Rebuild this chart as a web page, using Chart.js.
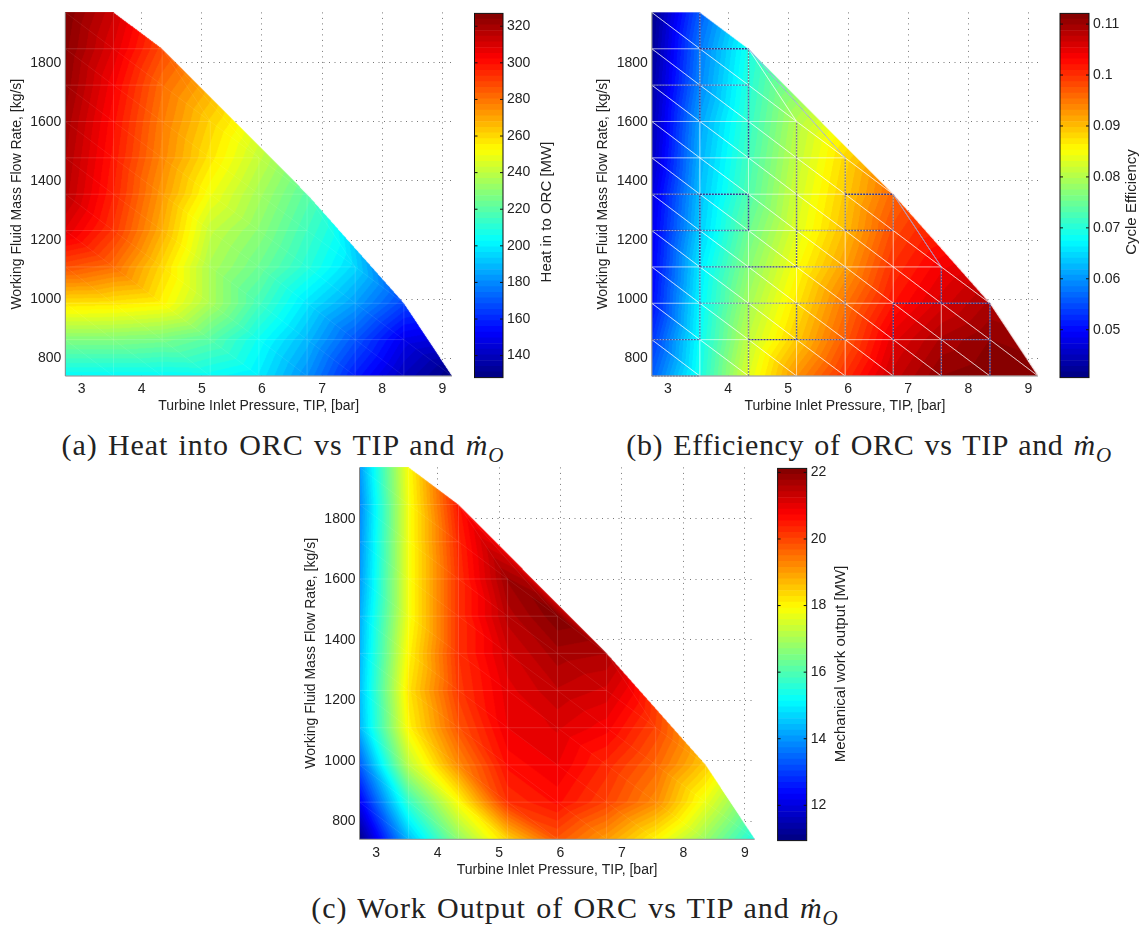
<!DOCTYPE html>
<html>
<head>
<meta charset="utf-8">
<script src="https://cdn.jsdelivr.net/npm/chart.js@4"></script>
<style>
  html, body { margin: 0; padding: 0; background: #fff; overflow: hidden; }
  body { position: relative; width: 1142px; height: 927px; }
  canvas { position: absolute; }
  .caption {
    position: absolute; transform: translateX(-50%); white-space: nowrap;
    font-family: "Liberation Serif", serif; font-size: 30px; line-height: 32px;
    color: #222; letter-spacing: 0.9px; word-spacing: 2px;
  }
  .caption i { font-style: italic; }
  .caption sub { font-size: 21px; line-height: 0; }
</style>
</head>
<body>
<div class="caption" style="left:283px;top:429px">(a) Heat into ORC vs TIP and <i>ṁ<sub>O</sub></i></div>
<div class="caption" style="left:869px;top:429px;letter-spacing:0.65px">(b) Efficiency of ORC vs TIP and <i>ṁ<sub>O</sub></i></div>
<div class="caption" style="left:575px;top:892px">(c) Work Output of ORC vs TIP and <i>ṁ<sub>O</sub></i></div>
<script>
// grid nodes of the sweep
const tipNodes  = [2.73, 3.53, 4.34, 5.14, 5.95, 6.75, 7.55, 8.36, 9.16];
const flowNodes = [740, 863, 986, 1109, 1232, 1355, 1478, 1601, 1724, 1847, 1970];

const xTicks = [3, 4, 5, 6, 7, 8, 9];
const yTicks = [800, 1000, 1200, 1400, 1600, 1800];

// one row per flow rate, bottom row first, row length = how far the sweep got
const heatRows = [
  [203, 203, 203, 204, 199, 181, 158, 140, 128],
  [228, 228, 226, 220, 205, 189, 169, 149],
  [258, 257, 254, 236, 216, 198, 184, 166],
  [287, 281, 260, 236, 224, 210, 195],
  [308, 292, 268, 241, 230, 215],
  [316, 296, 272, 250, 235, 220],
  [318, 298, 276, 257, 241],
  [320, 300, 278, 261],
  [323, 303, 281],
  [325, 308, 288],
  [327, 312],
];

const effRows = [
  [0.056, 0.069, 0.083, 0.093, 0.100, 0.107, 0.111, 0.112, 0.112],
  [0.053, 0.068, 0.081, 0.089, 0.097, 0.105, 0.109, 0.111],
  [0.050, 0.067, 0.079, 0.087, 0.095, 0.102, 0.106, 0.109],
  [0.049, 0.066, 0.077, 0.085, 0.092, 0.100, 0.104],
  [0.048, 0.064, 0.075, 0.083, 0.090, 0.098],
  [0.047, 0.063, 0.073, 0.082, 0.089, 0.096],
  [0.045, 0.062, 0.072, 0.081, 0.088],
  [0.044, 0.061, 0.071, 0.080],
  [0.043, 0.059, 0.070],
  [0.042, 0.058, 0.069],
  [0.041, 0.056],
];

const workRows = [
  [11.0, 14.4, 16.7, 18.4, 19.8, 19.0, 18.0, 16.8, 15.4],
  [12.2, 15.7, 17.9, 20.2, 20.6, 20.0, 19.2, 17.7],
  [13.3, 17.2, 19.2, 20.6, 20.9, 20.3, 19.6, 18.5],
  [14.3, 18.0, 19.8, 20.9, 21.1, 20.8, 20.0],
  [14.4, 18.2, 20.1, 21.0, 21.4, 21.2],
  [14.3, 18.0, 20.2, 21.2, 21.7, 21.6],
  [14.2, 17.8, 20.2, 21.5, 22.1],
  [14.0, 17.8, 20.2, 21.8],
  [13.9, 17.8, 20.3],
  [13.8, 17.8, 20.5],
  [14.0, 17.9],
];

// triangles closing the staircase to the convex hull, [col, row] nodes
const hullTriangles = [
  [[2, 9], [2, 8], [3, 7]],
  [[2, 9], [3, 7], [4, 6]],
  [[2, 9], [4, 6], [5, 5]],
  [[5, 5], [5, 4], [6, 3]],
  [[5, 5], [6, 3], [7, 2]],
  [[7, 2], [7, 1], [8, 0]],
];

// dark rendering seams in the efficiency plot: [col, row, strength]
const effSeamsH = [
  [1, 9, .9], [0, 8, .6], [1, 8, .6], [0, 5, .6], [1, 5, .9], [4, 5, .9],
  [0, 4, .6], [1, 4, .6], [3, 4, .35], [4, 4, .7], [1, 3, .7], [2, 3, .9], [3, 3, .4],
  [1, 2, .4], [2, 2, .4], [3, 2, .4], [5, 2, .9], [6, 2, .9],
  [0, 1, .7], [2, 1, .9], [3, 1, .7], [6, 1, .7], [0, 0, .5],
];
const effSeamsV = [
  [1, 9, .9], [1, 8, .35], [1, 7, .9], [1, 4, .9], [1, 3, .9], [1, 2, .6], [1, 1, .6],
  [2, 8, .5], [2, 7, .7], [2, 6, .9], [2, 4, .9], [2, 1, .5], [2, 0, .5],
  [3, 6, .55], [3, 5, .55], [3, 4, .7], [3, 3, .7], [3, 1, .7],
  [4, 5, .5], [4, 4, .5], [4, 2, .5], [4, 1, .5],
  [5, 4, .5], [5, 1, .9], [5, 0, .4], [6, 2, .7], [6, 0, .6], [7, 1, .9], [7, 0, .9],
];
const effSeamsHull = [
  [[2, 9], [4, 6]],
  [[5, 5], [6, 3]],
];

const heatBarTicks = [140, 160, 180, 200, 220, 240, 260, 280, 300, 320];
const effBarTicks  = [0.05, 0.06, 0.07, 0.08, 0.09, 0.1, 0.11];
const workBarTicks = [12, 14, 16, 18, 20, 22];

const FONT = '"Liberation Sans", Arial, sans-serif';
const TEXT = '#222';
const JET_LEVELS = 64;

function jet(t) {
  const c = v => Math.round(255 * Math.min(1, Math.max(0, v)));
  return [c(1.5 - Math.abs(4 * t - 3)), c(1.5 - Math.abs(4 * t - 2)), c(1.5 - Math.abs(4 * t - 1))];
}
const jetTable = Array.from({ length: JET_LEVELS }, (_, i) => jet((i + 0.5) / JET_LEVELS));

function placeCanvas(left, top, width, height) {
  const cv = document.createElement('canvas');
  cv.width = width;
  cv.height = height;
  cv.style.left = left + 'px';
  cv.style.top = top + 'px';
  cv.style.width = width + 'px';
  cv.style.height = height + 'px';
  document.body.appendChild(cv);
  return cv.getContext('2d');
}

function buildTriangles(rows) {
  const tris = [];
  for (let r = 0; r < rows.length - 1; r++) {
    for (let c = 0; c < rows[r].length - 1; c++) {
      if (c >= rows[r + 1].length) continue;
      tris.push([[c, r + 1], [c, r], [c + 1, r]]);
      if (c + 1 < rows[r + 1].length) tris.push([[c, r + 1], [c + 1, r + 1], [c + 1, r]]);
    }
  }
  return tris.concat(hullTriangles);
}

function surfacePlugin(cfg) {
  const SS = 2;
  const tris = buildTriangles(cfg.rows);

  const px = (chart, n) => [
    chart.scales.x.getPixelForValue(tipNodes[n[0]]),
    chart.scales.y.getPixelForValue(flowNodes[n[1]]),
  ];

  function segment(ctx, chart, a, b) {
    const pa = px(chart, a), pb = px(chart, b);
    ctx.beginPath();
    ctx.moveTo(pa[0], pa[1]);
    ctx.lineTo(pb[0], pb[1]);
    ctx.stroke();
  }

  return {
    id: 'surface' + cfg.id,
    beforeDatasetsDraw(chart) {
      const area = chart.chartArea;
      const w = Math.ceil(area.width * SS), h = Math.ceil(area.height * SS);
      const off = document.createElement('canvas');
      off.width = w;
      off.height = h;
      const octx = off.getContext('2d');
      const img = octx.createImageData(w, h);

      tris.forEach(tri => {
        const pts = tri.map(n => {
          const p = px(chart, n);
          return [(p[0] - area.left) * SS, (p[1] - area.top) * SS, cfg.rows[n[1]][n[0]]];
        });
        const [a, b, c] = pts;
        const det = (b[1] - c[1]) * (a[0] - c[0]) + (c[0] - b[0]) * (a[1] - c[1]);
        const x0 = Math.max(0, Math.floor(Math.min(a[0], b[0], c[0])));
        const x1 = Math.min(w - 1, Math.ceil(Math.max(a[0], b[0], c[0])));
        const y0 = Math.max(0, Math.floor(Math.min(a[1], b[1], c[1])));
        const y1 = Math.min(h - 1, Math.ceil(Math.max(a[1], b[1], c[1])));
        for (let y = y0; y <= y1; y++) {
          for (let x = x0; x <= x1; x++) {
            const l1 = ((b[1] - c[1]) * (x + .5 - c[0]) + (c[0] - b[0]) * (y + .5 - c[1])) / det;
            const l2 = ((c[1] - a[1]) * (x + .5 - c[0]) + (a[0] - c[0]) * (y + .5 - c[1])) / det;
            const l3 = 1 - l1 - l2;
            if (l1 < -0.001 || l2 < -0.001 || l3 < -0.001) continue;
            const z = l1 * a[2] + l2 * b[2] + l3 * c[2];
            const t = (z - cfg.zMin) / (cfg.zMax - cfg.zMin);
            const idx = Math.max(0, Math.min(JET_LEVELS - 1, Math.floor(t * JET_LEVELS)));
            const col = jetTable[idx];
            const o = (y * w + x) * 4;
            img.data[o] = col[0];
            img.data[o + 1] = col[1];
            img.data[o + 2] = col[2];
            img.data[o + 3] = 255;
          }
        }
      });
      octx.putImageData(img, 0, 0);

      const ctx = chart.ctx;
      ctx.save();
      ctx.imageSmoothingEnabled = true;
      ctx.imageSmoothingQuality = 'high';
      ctx.drawImage(off, area.left, area.top, w / SS, h / SS);

      // faint mesh lines
      ctx.lineWidth = 0.8;
      tris.forEach(tri => {
        for (let i = 0; i < 3; i++) {
          const a = tri[i], b = tri[(i + 1) % 3];
          const diag = a[0] !== b[0] && a[1] !== b[1];
          ctx.strokeStyle = `rgba(255,255,255,${diag ? cfg.meshDiag : cfg.meshGrid})`;
          segment(ctx, chart, a, b);
        }
      });

      // seams only show up on the efficiency plot
      if (cfg.seamsH) {
        ctx.lineWidth = 1.4;
        ctx.setLineDash([2, 1]);
        cfg.seamsH.forEach(([c, r, s]) => {
          ctx.strokeStyle = `rgba(35,40,130,${s})`;
          segment(ctx, chart, [c, r], [c + 1, r]);
        });
        cfg.seamsV.forEach(([c, r, s]) => {
          ctx.strokeStyle = s < .6 ? `rgba(90,90,120,${s + .2})` : `rgba(35,40,130,${s})`;
          segment(ctx, chart, [c, r], [c, r + 1]);
        });
        ctx.setLineDash([]);
        ctx.lineWidth = 0.7;
        ctx.strokeStyle = 'rgba(50,70,190,.6)';
        cfg.seamsHull.forEach(([a, b]) => segment(ctx, chart, a, b));
      }
      ctx.restore();
    },
    afterDatasetsDraw(chart) {
      const area = chart.chartArea;
      const ctx = chart.ctx;
      ctx.save();
      ctx.strokeStyle = '#8a8a8a';
      ctx.lineWidth = 1;
      ctx.beginPath();
      ctx.moveTo(area.left, area.top);
      ctx.lineTo(area.left, area.bottom);
      const p = px(chart, [8, 0]);
      ctx.lineTo(p[0], area.bottom);
      ctx.stroke();
      ctx.restore();
    },
  };
}

function drawSurface(cfg) {
  const b = cfg.box;
  const yW = 60, xH = 40, pad = 12;
  const left = Math.floor(b.left - yW), top = Math.floor(b.top - pad);
  const width = Math.ceil(b.right - left + pad), height = Math.ceil(b.bottom - top + xH);
  const ctx = placeCanvas(left, top, width, height);

  const nodes = [];
  cfg.rows.forEach((row, r) => row.forEach((z, c) => nodes.push({ x: tipNodes[c], y: flowNodes[r], z })));

  new Chart(ctx, {
    type: 'scatter',
    data: { datasets: [{ data: nodes, pointRadius: 0, pointHoverRadius: 0 }] },
    plugins: [surfacePlugin(cfg)],
    options: {
      responsive: false,
      animation: false,
      events: [],
      layout: {
        autoPadding: false,
        padding: {
          left: b.left - yW - left,
          top: b.top - top,
          right: left + width - b.right,
          bottom: top + height - b.bottom - xH,
        },
      },
      plugins: { legend: { display: false }, tooltip: { enabled: false } },
      scales: {
        x: {
          type: 'linear',
          min: tipNodes[0],
          max: tipNodes[tipNodes.length - 1],
          afterBuildTicks: s => { s.ticks = xTicks.map(value => ({ value })); },
          afterFit: s => { s.height = xH; },
          grid: { color: '#777', drawTicks: false },
          border: { display: false, dash: [1, 4.5] },
          ticks: {
            color: TEXT, padding: 5, maxRotation: 0, autoSkip: false,
            font: { family: FONT, size: 14 },
            callback: v => String(v),
          },
          title: {
            display: true, text: 'Turbine Inlet Pressure, TIP, [bar]', color: TEXT,
            font: { family: FONT, size: 14 }, padding: { top: 0, bottom: 1 },
          },
        },
        y: {
          type: 'linear',
          min: flowNodes[0],
          max: flowNodes[flowNodes.length - 1],
          afterBuildTicks: s => { s.ticks = yTicks.map(value => ({ value })); },
          afterFit: s => { s.width = yW; },
          grid: { color: '#777', drawTicks: false },
          border: { display: false, dash: [1, 4.5] },
          ticks: {
            color: TEXT, padding: 4, autoSkip: false,
            font: { family: FONT, size: 14 },
            callback: v => String(v),
          },
          title: {
            display: true, text: 'Working Fluid Mass Flow Rate, [kg/s]', color: TEXT,
            font: { family: FONT, size: 14 }, padding: { top: 3, bottom: 0 },
          },
        },
      },
    },
  });
}

function colorbarPlugin(cfg) {
  return {
    id: 'cbar' + cfg.id,
    afterDraw(chart) {
      const ctx = chart.ctx, a = chart.chartArea, y = chart.scales.y;
      ctx.save();
      ctx.strokeStyle = '#111';
      ctx.lineWidth = 1;
      ctx.strokeRect(a.left, a.top, a.width, a.height);
      ctx.beginPath();
      cfg.ticks.forEach(v => {
        const py = y.getPixelForValue(v);
        ctx.moveTo(a.left, py);
        ctx.lineTo(a.left + 3, py);
        ctx.moveTo(a.right, py);
        ctx.lineTo(a.right - 3, py);
      });
      ctx.stroke();
      // MATLAB rotates the label counter-clockwise, Chart.js right axis won't
      ctx.translate(cfg.titleX - chart.canvas.offsetLeft, cfg.titleY - chart.canvas.offsetTop);
      ctx.rotate(-Math.PI / 2);
      ctx.fillStyle = TEXT;
      ctx.font = `15px ${FONT}`;
      ctx.textAlign = 'center';
      ctx.textBaseline = 'middle';
      ctx.fillText(cfg.title, 0, 0);
      ctx.restore();
    },
  };
}

function drawColorbar(cfg) {
  const b = cfg.box;
  const labelW = 90, pad = 12;
  const left = Math.floor(b.left - pad), top = Math.floor(b.top - pad);
  const width = Math.ceil(b.right - left + labelW), height = Math.ceil(b.bottom - top + pad);
  const ctx = placeCanvas(left, top, width, height);

  const step = (cfg.zMax - cfg.zMin) / JET_LEVELS;
  const datasets = jetTable.map((col, i) => ({
    data: [[cfg.zMin + i * step, cfg.zMin + (i + 1) * step]],
    backgroundColor: `rgb(${col[0]},${col[1]},${col[2]})`,
    borderWidth: 0,
    barPercentage: 1,
    categoryPercentage: 1,
    grouped: false,
  }));

  new Chart(ctx, {
    type: 'bar',
    data: { labels: [''], datasets },
    plugins: [colorbarPlugin(cfg)],
    options: {
      responsive: false,
      animation: false,
      events: [],
      layout: {
        autoPadding: false,
        padding: {
          left: b.left - left,
          top: b.top - top,
          right: left + width - b.right - labelW,
          bottom: top + height - b.bottom,
        },
      },
      plugins: { legend: { display: false }, tooltip: { enabled: false } },
      scales: {
        x: { display: false, offset: true, grid: { display: false } },
        y: {
          position: 'right',
          min: cfg.zMin,
          max: cfg.zMax,
          afterBuildTicks: s => { s.ticks = cfg.ticks.map(value => ({ value })); },
          afterFit: s => { s.width = labelW; },
          grid: { display: false, drawTicks: false },
          border: { display: false },
          ticks: {
            color: TEXT, padding: 4, autoSkip: false,
            font: { family: FONT, size: 14 },
            callback: v => String(v),
          },
        },
      },
    },
  });
}

drawSurface({
  id: 'a', rows: heatRows, zMin: 128, zMax: 327, meshDiag: .05, meshGrid: .1,
  box: { left: 65.3, right: 452, top: 12.4, bottom: 376 },
});
drawColorbar({
  id: 'a', zMin: 128, zMax: 327, ticks: heatBarTicks, title: 'Heat in to ORC [MW]',
  titleX: 547, titleY: 212,
  box: { left: 474.5, right: 503, top: 13.3, bottom: 378 },
});

drawSurface({
  id: 'b', rows: effRows, zMin: 0.0406, zMax: 0.1121, meshDiag: .6, meshGrid: .45,
  seamsH: effSeamsH, seamsV: effSeamsV, seamsHull: effSeamsHull,
  box: { left: 651.8, right: 1038, top: 12.4, bottom: 376 },
});
drawColorbar({
  id: 'b', zMin: 0.0406, zMax: 0.1121, ticks: effBarTicks, title: 'Cycle Efficiency',
  titleX: 1132, titleY: 202,
  box: { left: 1060, right: 1089, top: 13.3, bottom: 378 },
});

drawSurface({
  id: 'c', rows: workRows, zMin: 10.94, zMax: 22.12, meshDiag: .05, meshGrid: .1,
  box: { left: 359.5, right: 754.7, top: 467.3, bottom: 839.3 },
});
drawColorbar({
  id: 'c', zMin: 10.94, zMax: 22.12, ticks: workBarTicks, title: 'Mechanical work output [MW]',
  titleX: 841, titleY: 664,
  box: { left: 777.6, right: 806.7, top: 468.3, bottom: 841 },
});
</script>
</body>
</html>
